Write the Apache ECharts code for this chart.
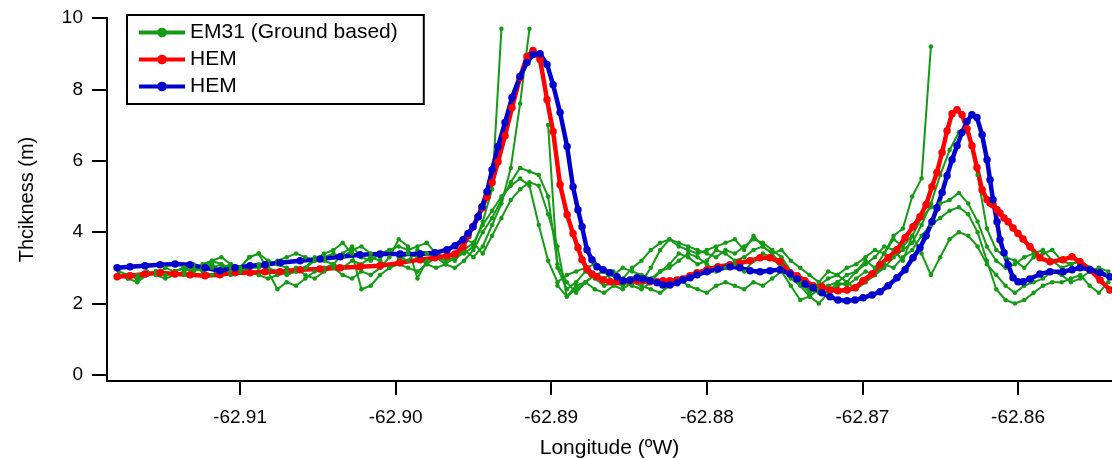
<!DOCTYPE html>
<html>
<head>
<meta charset="utf-8">
<script src="https://cdn.jsdelivr.net/npm/echarts@6/dist/echarts.min.js"></script>
<style>
  html, body { margin: 0; padding: 0; background: #fff; }
  #chart { width: 1112px; height: 458px; }
</style>
</head>
<body>
<div id="chart"></div>
<script>
// tick positions
const xTicks = [-62.91, -62.90, -62.89, -62.88, -62.87, -62.86];
const yTicks = [0, 2, 4, 6, 8, 10];

// HEM profiles (longitude, thickness m)
const hemLon = [
  -62.91790, -62.91707, -62.91611, -62.91514, -62.91418, -62.91321, -62.91225, -62.91129, -62.91032, -62.90936,
  -62.90839, -62.90743, -62.90614, -62.90486, -62.90357, -62.90229, -62.90100, -62.89972, -62.89843, -62.89747,
  -62.89670, -62.89618, -62.89567, -62.89535, -62.89503, -62.89470, -62.89445, -62.89413, -62.89380, -62.89342,
  -62.89297, -62.89252, -62.89201, -62.89156, -62.89117, -62.89072, -62.89027, -62.88988, -62.88943, -62.88898,
  -62.88860, -62.88828, -62.88802, -62.88770, -62.88738, -62.88706, -62.88667, -62.88622, -62.88577, -62.88539,
  -62.88494, -62.88449, -62.88410, -62.88365, -62.88320, -62.88282, -62.88237, -62.88192, -62.88153, -62.88108,
  -62.88063, -62.87999, -62.87928, -62.87851, -62.87787, -62.87722, -62.87658, -62.87594, -62.87530, -62.87465,
  -62.87420, -62.87369, -62.87317, -62.87260, -62.87208, -62.87157, -62.87099, -62.87048, -62.86996, -62.86938,
  -62.86887, -62.86835, -62.86778, -62.86726, -62.86675, -62.86630, -62.86591, -62.86553, -62.86521, -62.86488,
  -62.86456, -62.86424, -62.86392, -62.86360, -62.86328, -62.86296, -62.86264, -62.86231, -62.86199, -62.86180,
  -62.86161, -62.86135, -62.86116, -62.86090, -62.86064, -62.86032, -62.86000, -62.85968, -62.85923, -62.85859,
  -62.85794, -62.85711, -62.85653, -62.85602, -62.85537, -62.85473, -62.85409
];
const hemRed = [
  2.75, 2.78, 2.83, 2.86, 2.83, 2.81, 2.78, 2.81, 2.86, 2.86,
  2.89, 2.89, 2.95, 2.97, 3.00, 3.03, 3.06, 3.14, 3.23, 3.28,
  3.34, 3.39, 3.59, 3.90, 4.15, 4.43, 4.68, 4.99, 5.39, 5.97,
  6.70, 7.49, 8.33, 8.92, 9.09, 8.84, 7.71, 6.82, 5.33, 4.49,
  3.96, 3.56, 3.23, 2.97, 2.83, 2.75, 2.66, 2.61, 2.61, 2.64,
  2.64, 2.64, 2.64, 2.61, 2.61, 2.64, 2.64, 2.66, 2.69, 2.78,
  2.86, 2.95, 3.03, 3.09, 3.14, 3.20, 3.28, 3.28, 3.17, 2.86,
  2.78, 2.64, 2.50, 2.47, 2.38, 2.36, 2.38, 2.44, 2.64, 2.83,
  3.09, 3.28, 3.51, 3.84, 4.15, 4.43, 4.77, 5.27, 5.67, 6.23,
  6.84, 7.32, 7.43, 7.29, 6.90, 6.42, 5.81, 5.19, 4.91, 4.82,
  4.77, 4.63, 4.54, 4.40, 4.29, 4.12, 3.96, 3.81, 3.59, 3.28,
  3.17, 3.23, 3.31, 3.17, 2.95, 2.66, 2.38
];
const hemBlue = [
  3.00, 3.03, 3.06, 3.09, 3.11, 3.09, 3.00, 2.92, 3.00, 3.06,
  3.09, 3.14, 3.20, 3.25, 3.31, 3.37, 3.39, 3.39, 3.39, 3.42,
  3.51, 3.62, 3.79, 3.96, 4.15, 4.43, 4.71, 5.13, 5.75, 6.40,
  7.07, 7.77, 8.36, 8.75, 8.98, 9.00, 8.70, 8.13, 7.35, 6.40,
  5.27, 4.63, 4.15, 3.51, 3.23, 3.03, 2.95, 2.86, 2.75, 2.64,
  2.66, 2.72, 2.69, 2.64, 2.58, 2.52, 2.52, 2.58, 2.66, 2.72,
  2.81, 2.89, 2.97, 3.03, 3.00, 2.92, 2.89, 2.92, 2.95, 2.83,
  2.69, 2.55, 2.44, 2.30, 2.19, 2.10, 2.08, 2.10, 2.16, 2.24,
  2.33, 2.50, 2.72, 2.95, 3.28, 3.56, 3.90, 4.29, 4.68, 5.11,
  5.58, 6.03, 6.42, 6.79, 7.10, 7.29, 7.21, 6.73, 6.03, 5.47,
  4.91, 4.29, 3.79, 3.42, 3.09, 2.72, 2.61, 2.61, 2.69, 2.83,
  2.89, 2.89, 2.95, 3.00, 2.95, 2.86, 2.75
];

// EM31 ground tracks, sampled on a common longitude grid
const gLon = [
  -62.9178, -62.9172, -62.9166, -62.9160, -62.9154, -62.9148, -62.9142, -62.9136, -62.9130, -62.9124,
  -62.9118, -62.9112, -62.9106, -62.9100, -62.9094, -62.9088, -62.9082, -62.9076, -62.9070, -62.9064,
  -62.9058, -62.9052, -62.9046, -62.9040, -62.9034, -62.9028, -62.9022, -62.9016, -62.9010, -62.9004,
  -62.8998, -62.8992, -62.8986, -62.8980, -62.8974, -62.8968, -62.8962, -62.8956, -62.8950, -62.8944,
  -62.8938, -62.8932, -62.8926, -62.8920, -62.8914, -62.8908, -62.8902, -62.8896, -62.8890, -62.8884,
  -62.8878, -62.8872, -62.8866, -62.8860, -62.8854, -62.8848, -62.8842, -62.8836, -62.8830, -62.8824,
  -62.8818, -62.8812, -62.8806, -62.8800, -62.8794, -62.8788, -62.8782, -62.8776, -62.8770, -62.8764,
  -62.8758, -62.8752, -62.8746, -62.8740, -62.8734, -62.8728, -62.8722, -62.8716, -62.8710, -62.8704,
  -62.8698, -62.8692, -62.8686, -62.8680, -62.8674, -62.8668, -62.8662, -62.8656, -62.8650, -62.8644,
  -62.8638, -62.8632, -62.8626, -62.8620, -62.8614, -62.8608, -62.8602, -62.8596, -62.8590, -62.8584,
  -62.8578, -62.8572, -62.8566, -62.8560, -62.8554, -62.8548, -62.8542
];
const em1 = [
  null, 2.8, 2.7, 2.9, 2.8, 3.0, 2.9, 3.0, 3.1, 3.0,
  3.2, 3.1, 2.9, 3.0, 3.3, 3.4, 3.2, 3.1, 3.0, 2.9,
  3.0, 3.3, 3.2, 3.1, 3.4, 3.6, 3.3, 3.2, 3.4, 3.5,
  3.3, 3.2, 3.5, 3.4, 3.3, 3.2, 3.3, 3.4, 3.6, 4.3,
  5.2, 9.7, null, null, null, null, 7.0, 3.0, 2.4, 2.6,
  2.9, 2.7, 2.5, 2.6, 2.5, 2.7, 2.6, 3.0, 3.5, 3.8,
  3.7, 3.6, 3.5, 3.4, 3.3, 3.5, 3.4, 3.6, 3.8, 3.7,
  3.5, 3.3, 2.9, 2.6, 2.3, 2.5, 2.7, 2.8, 3.0, 3.1,
  3.3, 3.5, 3.4, 3.9, 4.1, 5.0, 5.5, 9.2, null, null,
  null, null, null, null, null, null, null, null, null, null,
  null, null, null, null, null, null, null
];
const em2 = [
  2.8, 2.7, 2.6, 2.8, 2.9, 2.8, 2.9, 3.0, 2.9, 3.0,
  3.1, 2.9, 2.8, 3.0, 3.3, 3.4, 2.9, 2.4, 2.6, 2.5,
  2.7, 2.9, 3.0, 3.1, 3.0, 3.2, 3.1, 3.3, 3.2, 3.0,
  3.2, 3.4, 3.3, 3.1, 3.0, 3.1, 3.3, 3.5, 3.3, 3.6,
  4.2, 4.8, 5.8, 7.6, 9.7, null, null, 2.5, 2.2, 2.4,
  2.6, 2.8, 2.7, 2.9, 2.6, 2.5, 2.4, 2.6, 2.9, 3.1,
  3.4, 3.3, 3.1, 3.2, 3.5, 3.4, 3.2, 3.3, 3.5, 3.6,
  3.4, 3.1, 2.8, 2.6, 2.4, 2.3, 2.5, 2.6, 2.5, 2.7,
  2.9, 2.8, 3.0, 3.3, 3.5, 3.7, 4.2, 4.8, 5.6, 6.3,
  6.8, 6.9, 5.6, 4.1, 3.5, 3.3, 3.2, 3.0, 3.3, 3.4,
  3.5, 3.2, 3.1, 3.2, 3.0, 2.9, 2.8
];
const em3 = [
  2.9, 2.8, 2.7, 2.8, 2.9, 2.8, 2.9, 2.8, 2.9, 3.0,
  3.0, 3.1, 3.0, 2.9, 3.0, 3.0, 3.1, 3.2, 3.3, 3.4,
  3.3, 3.2, 3.4, 3.5, 3.7, 3.4, 2.4, 2.5, 2.8, 3.0,
  3.1, 3.0, 2.9, 3.1, 3.3, 3.1, 3.0, 3.2, 3.5, 4.0,
  4.4, 4.9, 5.4, 5.8, 5.7, 5.6, 5.0, 3.1, 2.6, 2.3,
  2.6, 2.8, 2.9, 2.6, 2.7, 3.0, 3.2, 3.5, 3.7, 3.8,
  3.6, 3.5, 3.4, 3.5, 3.6, 3.7, 3.8, 3.5, 3.9, 3.6,
  3.4, 3.5, 3.2, 3.0, 2.8, 2.6, 2.9, 2.8, 2.6, 2.9,
  3.2, 3.0, 3.4, 3.8, 3.6, 3.9, 4.4, 4.7, 4.8, 4.9,
  5.1, 4.8, 4.3, 3.6, 3.2, 3.0, 3.1, 3.3, 3.4, 3.5,
  3.2, 3.0, 3.1, 3.2, 3.0, 2.9, 2.8
];
const em4 = [
  null, 2.7, 2.8, 2.9, 2.8, 2.7, 2.8, 2.9, 3.0, 2.9,
  2.8, 3.0, 3.1, 3.0, 2.9, 2.8, 2.7, 2.8, 2.9, 3.0,
  2.8, 2.7, 2.9, 3.0, 2.8, 2.7, 2.9, 2.8, 3.0, 3.3,
  3.8, 3.6, 2.7, 3.2, 3.4, 3.3, 3.2, 3.5, 3.7, 3.4,
  3.9, 4.4, 4.9, 5.2, 5.4, 5.3, 4.5, 3.6, 2.2, 2.5,
  2.6, 2.4, 2.3, 2.5, 2.4, 2.6, 2.5, 2.4, 2.3, 2.5,
  2.7, 2.5, 2.4, 2.3, 2.5, 2.6, 2.5, 2.4, 2.6, 2.5,
  2.7, 2.9, 2.5, 2.1, 2.2, 2.4, 2.3, 2.5, 2.6, 2.4,
  2.6, 2.8, 3.1, 3.0, 3.3, 3.5, 3.9, 4.2, 4.4, 4.6,
  4.7, 4.5, 4.0, 3.2, 2.4, 2.1, 2.0, 2.1, 2.3, 2.5,
  2.6, 2.6, 2.7, 2.8, 2.5, 2.3, 2.6
];
const em5 = [
  null, null, 2.7, 2.8, 2.9, 2.8, 2.9, 3.0, 2.9, 3.1,
  3.2, 3.3, 3.1, 2.9, 3.0, 3.1, 3.0, 2.9, 2.8, 2.9,
  3.0, 3.2, 3.3, 3.4, 3.3, 3.5, 3.6, 3.4, 3.3, 3.5,
  3.6, 3.5, 3.6, 3.7, 3.4, 3.5, 3.6, 3.8, 3.7, 4.2,
  4.6, 5.0, 5.3, 5.5, 5.3, 4.2, 3.2, 2.6, 2.8, 2.9,
  3.0, 3.1, 2.9, 2.8, 3.0, 2.9, 2.8, 2.7, 2.9, 3.0,
  3.2, 3.4, 3.3, 3.1, 2.9, 3.0, 3.1, 2.9, 3.2, 3.4,
  3.3, 3.0, 2.7, 2.5, 2.2, 2.0, 2.3, 2.6, 2.8, 2.9,
  3.1, 3.3, 3.6, 3.5, 3.2, 3.9, 3.4, 2.8, 3.3, 3.8,
  4.0, 3.9, 3.6, 3.1, 2.8, 2.5, 2.3, 2.5, 2.6, 2.7,
  2.9, 2.8, 2.6, 2.7, 2.9, 3.0, 2.9
];

const FONT = '"Liberation Sans", Arial, sans-serif';
const GREEN = '#159a15';
const RED = '#ff0000';
const BLUE = '#0000cc';
const EM_NAME = 'EM31 (Ground based)';

function init() {
  const element = document.getElementById('chart');
  const instance = echarts.init(element);

  const emSeries = [em1, em2, em3, em4, em5].map(function (track) {
    return {
      name: EM_NAME,
      type: 'line',
      data: gLon.map(function (x, i) { return [x, track[i]]; }),
      symbol: 'circle',
      symbolSize: 4.5,
      showAllSymbol: true,
      lineStyle: { color: GREEN, width: 2 },
      itemStyle: { color: GREEN },
      emphasis: { disabled: true }
    };
  });

  function hemSeries(name, values, color) {
    return {
      name: name,
      type: 'line',
      data: hemLon.map(function (x, i) { return [x, values[i]]; }),
      symbol: 'circle',
      symbolSize: 7.5,
      showAllSymbol: true,
      lineStyle: { color: color, width: 4.5 },
      itemStyle: { color: color },
      emphasis: { disabled: true }
    };
  }

  let option = {
    animation: false,
    backgroundColor: '#fff',
    textStyle: { fontFamily: FONT },
    grid: {
      left: 107, right: 0, top: 18, bottom: 77,
      containLabel: false,
      outerBoundsMode: 'none'
    },
    legend: {
      left: 127,
      top: 15,
      orient: 'vertical',
      data: [EM_NAME, 'HEM', 'HEM '],
      backgroundColor: '#fff',
      borderColor: '#000',
      borderWidth: 2,
      padding: [7, 26, 7, 10],
      itemGap: 6,
      itemWidth: 46,
      itemHeight: 12,
      lineStyle: { width: 4 },
      textStyle: { fontSize: 21, color: '#000', fontFamily: FONT }
    },
    xAxis: {
      type: 'value',
      min: -62.91855,
      max: -62.85396,
      name: 'Longitude (ºW)',
      nameLocation: 'middle',
      nameGap: 57,
      nameTextStyle: { fontSize: 21, color: '#000', fontFamily: FONT },
      axisLine: { onZero: false, lineStyle: { color: '#000', width: 2 } },
      axisTick: { length: 14, lineStyle: { color: '#000', width: 2 }, customValues: xTicks },
      axisLabel: {
        customValues: xTicks,
        formatter: function (v) { return v.toFixed(2); },
        fontSize: 19,
        color: '#000',
        margin: 27,
        fontFamily: FONT
      },
      splitLine: { show: false }
    },
    yAxis: {
      type: 'value',
      min: -0.17,
      max: 10,
      name: 'Thcikness (m)',
      nameLocation: 'middle',
      nameGap: 70,
      nameTextStyle: { fontSize: 20, color: '#000', fontFamily: FONT },
      axisLine: { onZero: false, lineStyle: { color: '#000', width: 2 } },
      axisTick: { length: 15, lineStyle: { color: '#000', width: 2 }, customValues: yTicks },
      axisLabel: {
        customValues: yTicks,
        fontSize: 19,
        color: '#000',
        margin: 24,
        fontFamily: FONT
      },
      splitLine: { show: false }
    },
    series: emSeries.concat([
      hemSeries('HEM', hemRed, RED),
      hemSeries('HEM ', hemBlue, BLUE)
    ])
  };

  instance && instance.setOption(option);

  window.onresize = function () {
    instance.resize();
  };
}

init();
</script>
</body>
</html>
